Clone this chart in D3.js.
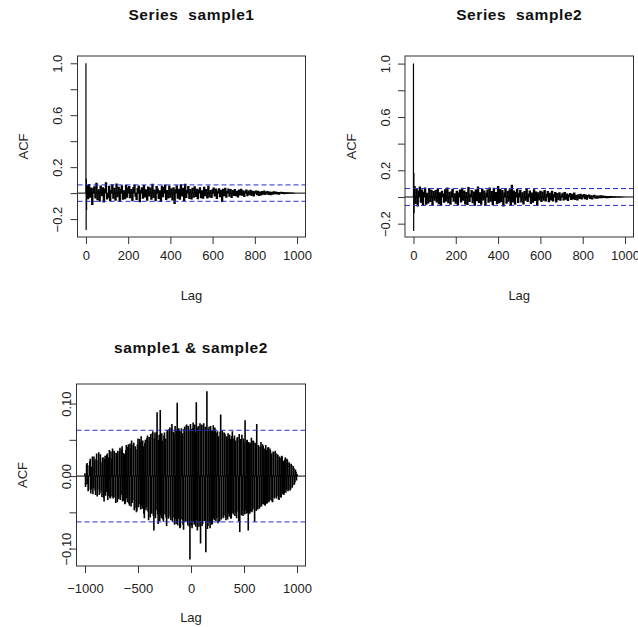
<!DOCTYPE html>
<html>
<head>
<meta charset="utf-8">
<script src="https://cdn.jsdelivr.net/npm/d3@7"></script>
<style>
  html, body { margin: 0; padding: 0; background: #fff; }
  svg { display: block; font-family: "Liberation Sans", Arial, Helvetica, sans-serif; }
</style>
</head>
<body>
<svg id="chart" width="638" height="627"></svg>
<script>
// ---------------- data ----------------
const acfLagStep = 5;          // body values are at lags 5, 10, ..., 1000
const ccfLagStep = 10;         // ccf values at lags -1000, -990, ..., 1000
const ccfLagMin = -1000;
const ccfMidLagMin = -995;     // in-between ccf values at lags -995, -985, ..., 995
const ciBound = 0.0632;        // dashed blue confidence bound (±)

// sample1 ACF: lags 0..4
const acf1Head = [1.0, -0.285, 0.11, -0.13, 0.05];
// sample1 ACF: lags 5..1000 step 5
const acf1 = [
  0.062, -0.048, 0.071, -0.035, 0.044, -0.091, 0.038, 0.052, -0.041, 0.079, -0.055, 0.029, -0.067, 0.058, -0.024, 0.046, -0.072, 0.035, 0.083, -0.049,
  -0.038, 0.057, -0.061, 0.026, 0.069, -0.044, 0.041, -0.058, 0.075, -0.032, 0.049, -0.066, 0.033, 0.061, -0.052, 0.022, -0.047, 0.064, -0.036, 0.043,
  0.054, -0.039, 0.031, -0.063, 0.048, 0.067, -0.028, -0.054, 0.039, 0.058, -0.071, 0.025, 0.046, -0.043, 0.062, -0.034, 0.029, -0.059, 0.051, -0.026,
  0.044, -0.051, 0.072, -0.037, 0.028, -0.062, 0.055, 0.036, -0.046, 0.023, -0.068, 0.057, -0.031, 0.047, 0.066, -0.053, 0.024, -0.041, 0.059, -0.035,
  0.038, -0.057, 0.046, -0.083, 0.029, 0.061, -0.044, 0.034, -0.052, 0.069, -0.027, 0.042, -0.061, 0.073, -0.038, 0.025, 0.054, -0.046, 0.032, -0.049,
  0.041, -0.036, 0.052, -0.029, 0.034, -0.048, 0.027, 0.045, -0.039, 0.022, -0.043, 0.049, -0.025, 0.031, -0.041, 0.056, -0.033, 0.024, -0.037, 0.029,
  0.043, -0.027, 0.035, -0.046, 0.021, 0.038, -0.031, 0.026, -0.069, 0.033, -0.024, 0.041, -0.035, 0.019, 0.036, -0.028, 0.032, -0.038, 0.024, -0.022,
  0.031, -0.025, 0.019, -0.033, 0.027, -0.018, 0.034, -0.021, 0.023, -0.029, 0.016, 0.028, -0.024, 0.021, -0.017, 0.025, -0.022, 0.018, -0.026, 0.015,
  0.021, -0.016, 0.019, -0.022, 0.013, -0.018, 0.017, -0.012, 0.020, -0.015, 0.011, 0.016, -0.014, 0.012, -0.017, 0.010, -0.013, 0.014, -0.009, 0.012,
  -0.011, 0.009, -0.012, 0.008, 0.010, -0.007, 0.008, -0.009, 0.006, -0.007, 0.006, -0.005, 0.005, -0.004, 0.004, -0.003, 0.003, -0.002, 0.001, 0.000
];

// sample2 ACF: lags 0..4
const acf2Head = [1.0, -0.255, 0.18, -0.12, 0.07];
// sample2 ACF: lags 5..1000 step 5
const acf2 = [
  0.083, -0.052, 0.064, -0.071, 0.047, 0.078, -0.043, 0.056, -0.066, 0.039, 0.072, -0.058, 0.031, -0.049, 0.067, -0.037, 0.054, -0.062, 0.045, -0.028,
  0.052, -0.041, 0.063, -0.055, 0.036, -0.068, 0.047, 0.026, -0.044, 0.058, -0.033, 0.071, -0.047, 0.039, -0.059, 0.043, 0.062, -0.035, 0.028, -0.051,
  0.046, -0.064, 0.033, 0.057, -0.042, 0.069, -0.029, 0.048, -0.056, 0.037, -0.061, 0.074, -0.038, 0.025, 0.053, -0.047, 0.041, -0.066, 0.058, -0.032,
  0.078, -0.045, 0.036, -0.058, 0.064, -0.027, 0.049, -0.067, 0.031, 0.056, -0.043, 0.072, -0.036, 0.044, -0.062, 0.069, -0.031, 0.038, -0.054, 0.083,
  -0.047, 0.061, -0.039, 0.052, -0.071, 0.034, 0.067, -0.051, 0.044, -0.036, 0.058, -0.063, 0.091, -0.042, 0.049, -0.058, 0.037, 0.062, -0.045, 0.031,
  0.054, -0.041, 0.036, -0.057, 0.045, -0.029, 0.061, -0.038, 0.027, 0.049, -0.052, 0.033, -0.044, 0.058, -0.031, 0.042, -0.068, 0.035, -0.026, 0.047,
  -0.037, 0.041, -0.029, 0.052, -0.034, 0.025, 0.044, -0.039, 0.031, -0.027, 0.046, -0.033, 0.022, 0.037, -0.041, 0.029, -0.024, 0.035, -0.028, 0.021,
  0.032, -0.026, 0.038, -0.021, 0.027, -0.031, 0.019, 0.029, -0.023, 0.025, -0.018, 0.033, -0.022, 0.017, -0.026, 0.021, -0.016, 0.024, -0.019, 0.014,
  0.022, -0.017, 0.018, -0.021, 0.014, 0.019, -0.015, 0.013, -0.018, 0.012, 0.016, -0.013, 0.011, -0.014, 0.012, -0.010, 0.013, -0.009, 0.011, -0.008,
  0.010, -0.009, 0.008, -0.010, 0.007, -0.008, 0.007, -0.006, 0.006, -0.005, 0.005, -0.004, 0.004, -0.004, 0.003, -0.003, 0.002, -0.002, 0.001, 0.000
];

// sample1 & sample2 cross-correlation: lags -1000..1000 step 10
const ccf12 = [
  0.004, -0.012, 0.018, -0.021, 0.015, 0.024, -0.019, 0.027, -0.016, 0.022, -0.026, 0.031, -0.018, 0.033, -0.024, 0.019, -0.029, 0.026, -0.035, 0.028,
  -0.022, 0.031, -0.027, 0.036, -0.031, 0.024, 0.038, -0.029, 0.033, -0.037, 0.027, 0.035, -0.032, 0.039, -0.026, 0.041, -0.034, 0.030, -0.038, 0.043,
  -0.036, 0.044, -0.041, 0.038, 0.049, -0.033, 0.046, -0.044, 0.037, -0.048, 0.052, -0.039, 0.047, 0.055, -0.045, 0.041, -0.058, 0.050, -0.043, 0.056,
  -0.061, 0.048, 0.058, -0.052, 0.062, -0.075, 0.060, -0.047, 0.088, -0.066, 0.057, 0.091, -0.058, 0.049, -0.063, 0.060, 0.052, -0.069, 0.064, -0.055,
  0.067, -0.061, 0.072, -0.057, 0.058, 0.069, -0.066, 0.101, -0.059, 0.063, -0.071, 0.066, 0.059, -0.074, 0.068, -0.062, 0.071, -0.068, 0.064, -0.115,
  0.065, -0.072, 0.074, -0.067, 0.060, 0.102, -0.075, 0.069, -0.064, -0.093, 0.071, -0.066, 0.073, -0.061, -0.105, 0.117, -0.069, 0.068, -0.072, 0.063,
  -0.066, 0.070, -0.061, 0.064, -0.058, 0.062, 0.055, -0.063, 0.085, -0.057, 0.060, -0.054, 0.058, -0.061, 0.053, 0.059, -0.056, 0.051, -0.058, 0.062,
  -0.053, 0.056, 0.049, -0.058, 0.054, -0.062, -0.077, 0.051, 0.057, -0.055, 0.046, 0.077, -0.052, 0.050, -0.075, 0.045, -0.049, 0.053, -0.047, 0.048,
  -0.063, 0.044, 0.072, -0.046, 0.041, -0.043, 0.047, -0.039, 0.042, 0.038, -0.041, 0.036, -0.037, 0.040, -0.034, 0.035, 0.031, -0.036, 0.033, -0.029,
  0.032, -0.027, 0.029, -0.033, 0.025, -0.030, 0.027, 0.021, -0.024, 0.026, -0.019, 0.022, -0.020, 0.017, -0.018, 0.015, -0.013, 0.011, -0.009, 0.006, 0.003
];
// cross-correlation in between: lags -995..995 step 10
const ccf12Mid = [
  -0.015, 0.016, -0.011, -0.019, 0.021, -0.024, 0.013, -0.025, 0.027, -0.020, 0.024, -0.028, 0.022, -0.026, 0.030, -0.021, 0.025, -0.030, 0.024, -0.027,
  0.029, -0.033, 0.026, -0.030, 0.034, -0.028, -0.031, 0.035, -0.030, 0.032, -0.036, -0.029, 0.034, -0.033, 0.037, -0.035, 0.032, -0.039, 0.036, -0.031,
  0.040, -0.038, 0.045, -0.042, -0.037, 0.043, -0.047, 0.041, -0.050, 0.044, -0.043, 0.051, -0.046, -0.041, 0.049, -0.052, 0.046, -0.047, 0.053, -0.049,
  0.054, -0.057, -0.046, 0.059, -0.055, 0.052, -0.058, 0.061, -0.053, 0.050, -0.062, -0.054, 0.059, -0.060, 0.056, -0.053, -0.057, 0.062, -0.059, 0.065,
  -0.058, 0.066, -0.063, 0.061, -0.067, -0.059, 0.064, -0.068, 0.066, -0.072, 0.062, -0.060, -0.067, 0.065, -0.063, 0.070, -0.064, 0.069, -0.070, 0.072,
  -0.068, 0.066, -0.063, 0.071, -0.070, -0.061, 0.067, -0.070, 0.073, 0.064, -0.069, 0.070, -0.062, 0.068, 0.066, -0.073, 0.065, -0.064, 0.069, -0.067,
  0.063, -0.059, 0.067, -0.062, 0.060, -0.065, -0.057, 0.061, -0.060, 0.063, -0.058, 0.060, -0.057, 0.055, -0.060, -0.052, 0.057, -0.059, 0.055, -0.051,
  0.052, -0.055, -0.050, 0.053, -0.049, 0.058, 0.051, -0.054, -0.048, 0.052, -0.053, -0.047, 0.049, -0.051, 0.047, -0.052, 0.046, -0.050, 0.049, -0.045,
  0.046, -0.048, -0.041, 0.043, -0.045, 0.040, -0.042, 0.044, -0.039, -0.040, 0.043, -0.038, 0.039, -0.036, 0.038, -0.033, -0.035, 0.034, -0.031, 0.035,
  -0.031, 0.030, -0.032, 0.027, -0.029, 0.028, -0.025, -0.026, 0.023, -0.023, 0.024, -0.021, 0.019, -0.020, 0.017, -0.016, 0.014, -0.012, 0.009, -0.006
];

// axis ticks / labels
const acfXTicks = [0, 200, 400, 600, 800, 1000];
const acfYTicks = [-0.2, 0, 0.2, 0.4, 0.6, 0.8, 1.0];
const acfYLabeled = [-0.2, 0.2, 0.6, 1.0];
const ccfXTicks = [-1000, -500, 0, 500, 1000];
const ccfYTicks = [-0.10, -0.05, 0, 0.05, 0.10];
const ccfYLabeled = [-0.10, 0, 0.10];
const titles = ["Series  sample1", "Series  sample2", "sample1 & sample2"];

// ---------------- build spike lists ----------------
const acfSpikes = (head, body) =>
  head.map((v, i) => ({ lag: i, v, head: true }))
      .concat(body.map((v, i) => ({ lag: acfLagStep * (i + 1), v, head: false })));
const ccfSpikes = ccf12.map((v, i) => ({ lag: ccfLagMin + ccfLagStep * i, v, head: false }))
  .concat(ccf12Mid.map((v, i) => ({ lag: ccfMidLagMin + ccfLagStep * i, v, head: false })));

// ---------------- drawing ----------------
const svg = d3.select("#chart");
const fmtMinus = s => s.replace("-", "\u2212");

function panel(cfg, idx) {
  const x = d3.scaleLinear().domain(cfg.xDomain).range([cfg.x0, cfg.x1]);
  const y = d3.scaleLinear().domain(cfg.yDomain).range([cfg.y1, cfg.y0]);
  const g = svg.append("g");
  const clipId = "clip" + idx;
  svg.append("clipPath").attr("id", clipId).append("rect")
    .attr("x", cfg.x0).attr("y", cfg.y0)
    .attr("width", cfg.x1 - cfg.x0).attr("height", cfg.y1 - cfg.y0);

  const plot = g.append("g").attr("clip-path", `url(#${clipId})`);

  // spikes (type = "h")
  plot.append("g").selectAll("line").data(cfg.spikes).join("line")
    .attr("x1", d => x(d.lag)).attr("x2", d => x(d.lag))
    .attr("y1", y(0)).attr("y2", d => y(d.v))
    .attr("stroke", "#000")
    .attr("stroke-width", d => d.head ? 1.2 : cfg.spikeW);

  // zero line
  plot.append("line")
    .attr("x1", cfg.x0).attr("x2", cfg.x1).attr("y1", y(0)).attr("y2", y(0))
    .attr("stroke", "#000").attr("stroke-width", 1);

  // confidence bounds
  [ciBound, -ciBound].forEach(c => {
    plot.append("line")
      .attr("x1", cfg.x0).attr("x2", cfg.x1).attr("y1", y(c)).attr("y2", y(c))
      .attr("stroke", "#2a2ad6").attr("stroke-width", 1)
      .attr("stroke-dasharray", "5,3");
  });

  // box
  g.append("rect").attr("x", cfg.x0).attr("y", cfg.y0)
    .attr("width", cfg.x1 - cfg.x0).attr("height", cfg.y1 - cfg.y0)
    .attr("fill", "none").attr("stroke", "#333").attr("stroke-width", 1);

  // x axis
  const xa = g.append("g").attr("transform", `translate(0,${cfg.y1})`)
    .call(d3.axisBottom(x).tickValues(cfg.xTicks).tickSize(7).tickSizeOuter(0)
      .tickFormat(d => fmtMinus(String(d))));
  xa.select(".domain").remove();
  xa.selectAll("line").attr("stroke", "#333");
  xa.selectAll("text").attr("y", cfg.xLabelDy).attr("dy", "0.35em")
    .attr("font-size", 13).attr("fill", "#222");

  // y axis
  const ya = g.append("g").attr("transform", `translate(${cfg.x0},0)`)
    .call(d3.axisLeft(y).tickValues(cfg.yTicks).tickSize(7).tickSizeOuter(0)
      .tickFormat(d => cfg.yLabeled.some(l => Math.abs(l - d) < 1e-9) ? fmtMinus(cfg.yFmt(d)) : ""));
  ya.select(".domain").remove();
  ya.selectAll("line").attr("stroke", "#333");
  ya.selectAll("text")
    .attr("transform", "rotate(-90)")
    .attr("x", 0).attr("y", -cfg.yLabelDx).attr("dy", "0.35em")
    .attr("text-anchor", "middle")
    .attr("font-size", 13).attr("fill", "#222");

  // titles
  svg.append("text").attr("x", (cfg.x0 + cfg.x1) / 2).attr("y", cfg.titleY)
    .attr("text-anchor", "middle").attr("font-weight", "bold")
    .attr("font-size", 15.5).attr("letter-spacing", "0.6px")
    .attr("fill", "#111").style("white-space", "pre").text(cfg.title);
  svg.append("text").attr("x", (cfg.x0 + cfg.x1) / 2).attr("y", cfg.lagY)
    .attr("text-anchor", "middle").attr("dy", "0.35em")
    .attr("font-size", 13).attr("fill", "#222").text("Lag");
  svg.append("text")
    .attr("transform", `translate(${cfg.acfX},${(cfg.y0 + cfg.y1) / 2}) rotate(-90)`)
    .attr("text-anchor", "middle").attr("dy", "0.35em")
    .attr("font-size", 13).attr("fill", "#222").text("ACF");
}

panel({
  x0: 77.5, x1: 305.5, y0: 56, y1: 237,
  xDomain: [-40, 1040], yDomain: [-0.338, 1.056],
  xTicks: acfXTicks, yTicks: acfYTicks, yLabeled: acfYLabeled, yFmt: d3.format(".1f"),
  spikes: acfSpikes(acf1Head, acf1), spikeW: 2.4,
  title: titles[0], titleY: 20, lagY: 295, acfX: 23, xLabelDy: 18, yLabelDx: 20
}, 0);

panel({
  x0: 405, x1: 633.5, y0: 56, y1: 237,
  xDomain: [-40, 1040], yDomain: [-0.30, 1.057],
  xTicks: acfXTicks, yTicks: acfYTicks, yLabeled: acfYLabeled, yFmt: d3.format(".1f"),
  spikes: acfSpikes(acf2Head, acf2), spikeW: 2.4,
  title: titles[1], titleY: 20, lagY: 295, acfX: 351, xLabelDy: 18, yLabelDx: 20
}, 1);

panel({
  x0: 76.5, x1: 305.5, y0: 384, y1: 566,
  xDomain: [-1080, 1080], yDomain: [-0.124, 0.127],
  xTicks: ccfXTicks, yTicks: ccfYTicks, yLabeled: ccfYLabeled, yFmt: d3.format(".2f"),
  spikes: ccfSpikes, spikeW: 1.6,
  title: titles[2], titleY: 353, lagY: 617, acfX: 22, xLabelDy: 22, yLabelDx: 10
}, 2);
</script>
</body>
</html>
